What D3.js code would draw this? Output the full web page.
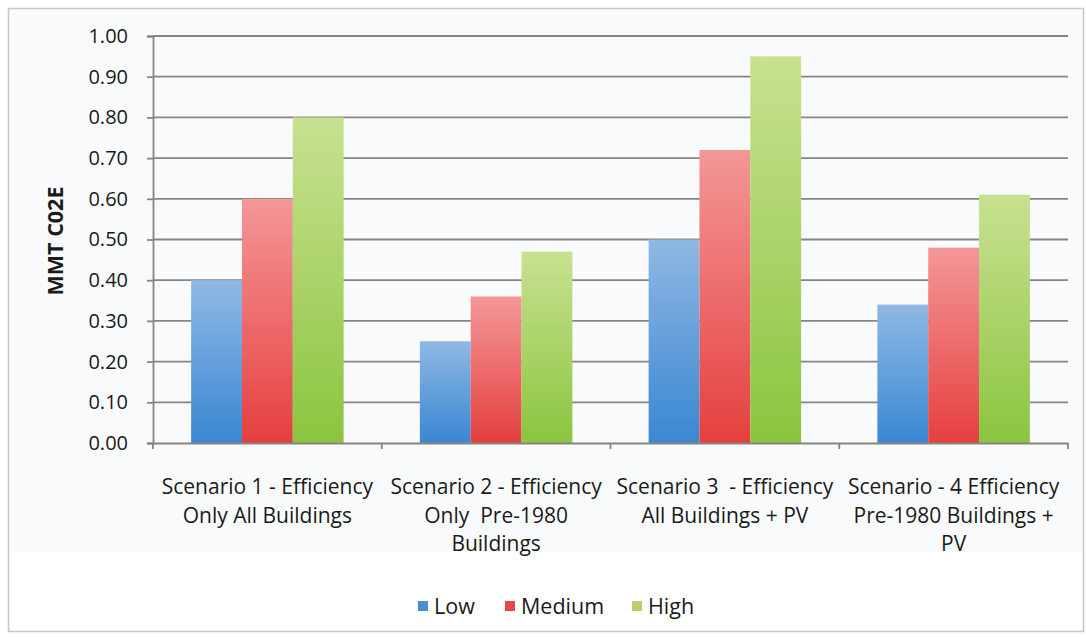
<!DOCTYPE html>
<html>
<head>
<meta charset="utf-8">
<script src="https://cdn.jsdelivr.net/npm/d3@7"></script>
<style>
  html, body { margin: 0; padding: 0; background: #ffffff; }
  svg { display: block; }
  text { font-family: "Open Sans", Lato, sans-serif; fill: #1a1a1a; white-space: pre; }
</style>
</head>
<body>
<svg id="chart" width="1086" height="637"></svg>
<script>
// Scenario categories (each label split into display lines)
const categories = [
  ["Scenario 1 - Efficiency", "Only All Buildings"],
  ["Scenario 2 - Efficiency", "Only  Pre-1980", "Buildings"],
  ["Scenario 3  - Efficiency", "All Buildings + PV"],
  ["Scenario - 4 Efficiency", "Pre-1980 Buildings +", "PV"]
];
const seriesNames = ["Low", "Medium", "High"];
const lowValues    = [0.40, 0.25, 0.50, 0.34];
const mediumValues = [0.60, 0.36, 0.72, 0.48];
const highValues   = [0.80, 0.47, 0.95, 0.61];
const yTicks = [0, 0.1, 0.2, 0.3, 0.4, 0.5, 0.6, 0.7, 0.8, 0.9, 1.0];
const yTitle = "MMT C02E";

const seriesValues = [lowValues, mediumValues, highValues];
const colors = [
  { top: "#8fb8e4", bottom: "#3a87d2" },
  { top: "#f49797", bottom: "#e53f3f" },
  { top: "#c8e191", bottom: "#8bc53f" }
];
const legendSwatch = ["#4a8ed3", "#e6484a", "#b8d06a"];

const svg = d3.select("#chart");
const W = 1086, H = 637;
const plot = { left: 153, right: 1068, top: 36, bottom: 443 };

// Background panels and frame
svg.append("rect").attr("x", 0).attr("y", 0).attr("width", W).attr("height", H).attr("fill", "#ffffff");
svg.append("rect").attr("x", 9).attr("y", 9).attr("width", 1074).attr("height", 543).attr("fill", "#f9fafb");
svg.append("rect").attr("x", 8.5).attr("y", 8.5).attr("width", 1075).attr("height", 623)
  .attr("fill", "none").attr("stroke", "#c9c6c4").attr("stroke-width", 1.5);

const defs = svg.append("defs");
colors.forEach((c, i) => {
  const g = defs.append("linearGradient").attr("id", "grad" + i)
    .attr("x1", 0).attr("y1", 0).attr("x2", 0).attr("y2", 1);
  g.append("stop").attr("offset", "0%").attr("stop-color", c.top);
  g.append("stop").attr("offset", "100%").attr("stop-color", c.bottom);
});

const x0 = d3.scaleBand().domain(d3.range(categories.length))
  .range([plot.left, plot.right]).paddingInner(0).paddingOuter(0);
const x1 = d3.scaleBand().domain(d3.range(seriesNames.length))
  .range([0, x0.bandwidth()]).paddingOuter(0.75).paddingInner(0);
const y = d3.scaleLinear().domain([0, 1]).range([plot.bottom, plot.top]);

// Horizontal gridlines
svg.append("g").selectAll("line").data(yTicks.slice(1)).join("line")
  .attr("x1", plot.left).attr("x2", plot.right)
  .attr("y1", d => y(d)).attr("y2", d => y(d))
  .attr("stroke", "#8a837f").attr("stroke-width", 1.8);

// Bars
const groups = svg.append("g").selectAll("g").data(categories).join("g")
  .attr("transform", (d, i) => `translate(${x0(i)},0)`);
groups.selectAll("rect").data((d, i) => seriesValues.map((s, k) => ({ k, v: s[i] }))).join("rect")
  .attr("x", d => x1(d.k)).attr("width", x1.bandwidth())
  .attr("y", d => y(d.v)).attr("height", d => y(0) - y(d.v))
  .attr("fill", d => `url(#grad${d.k})`);

// Y axis
const yAxis = d3.axisLeft(y).tickValues(yTicks).tickFormat(d3.format(".2f")).tickSize(6).tickPadding(19);
const yg = svg.append("g").attr("transform", `translate(${plot.left},0)`).call(yAxis);
yg.select(".domain").attr("stroke", "#8a837f").attr("stroke-width", 1.8);
yg.selectAll(".tick line").attr("stroke", "#8a837f").attr("stroke-width", 1.8);
yg.selectAll(".tick text").style("font-size", "20px").attr("fill", "#1a1a1a")
  .style("font-family", "'Open Sans', Lato, sans-serif");

// X axis
const xAxis = d3.axisBottom(x0).tickValues([]).tickSizeOuter(0);
const xg = svg.append("g").attr("transform", `translate(0,${plot.bottom})`).call(xAxis);
xg.select(".domain").attr("stroke", "#8a837f").attr("stroke-width", 1.8);
const boundaries = d3.range(categories.length + 1).map(i => plot.left + i * x0.step());
xg.selectAll("line.bound").data(boundaries).join("line").attr("class", "bound")
  .attr("x1", d => d).attr("x2", d => d).attr("y1", 0).attr("y2", 6)
  .attr("stroke", "#8a837f").attr("stroke-width", 1.8);

// Category labels
const labels = svg.append("g").selectAll("text").data(categories).join("text")
  .attr("text-anchor", "middle")
  .attr("x", (d, i) => x0(i) + x0.bandwidth() / 2)
  .attr("y", 494)
  .style("font-size", "21px");
labels.selectAll("tspan").data(d => d).join("tspan")
  .attr("x", function () { return this.parentNode.getAttribute("x"); })
  .attr("dy", (d, i) => i === 0 ? 0 : 28.5)
  .text(d => d);

// Y axis title
svg.append("text")
  .attr("transform", `translate(63,241) rotate(-90)`)
  .attr("text-anchor", "middle")
  .style("font-size", "21.5px").style("font-weight", "bold")
  .text(yTitle);

// Legend
const legendX = [418, 505, 632];
const legend = svg.append("g").selectAll("g").data(seriesNames).join("g")
  .attr("transform", (d, i) => `translate(${legendX[i]},606)`);
legend.append("rect").attr("x", 0).attr("y", -5).attr("width", 10).attr("height", 10)
  .attr("fill", (d, i) => legendSwatch[i]);
legend.append("text").attr("x", 16).attr("y", 7.5).style("font-size", "21.5px").text(d => d);
</script>
</body>
</html>
